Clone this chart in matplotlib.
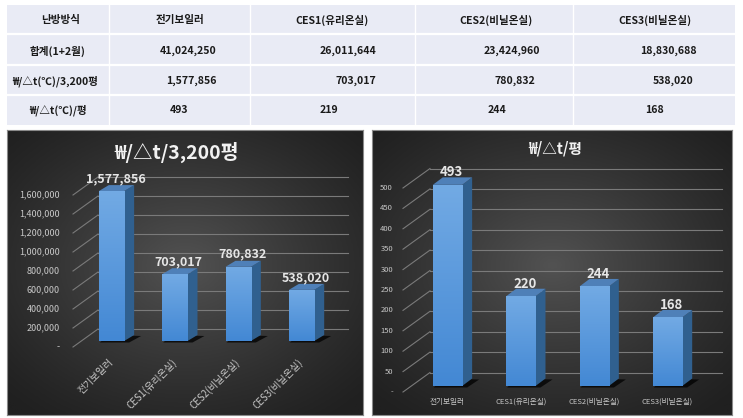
import numpy as np
import matplotlib
matplotlib.use('Agg')
import matplotlib.pyplot as plt
from matplotlib.patches import Rectangle, Polygon
from matplotlib.transforms import IdentityTransform
from matplotlib.colors import LinearSegmentedColormap

plt.rcParams['font.family'] = ['Noto Sans CJK KR', 'DejaVu Sans']

# ---------------- data ----------------
table_header = ['난방방식', '전기보일러', 'CES1(유리온실)', 'CES2(비닐온실)', 'CES3(비닐온실)']
row_labels = ['합계(1+2월)', '₩/△t(℃)/3,200평', '₩/△t(℃)/평']
total_cost = [41024250, 26011644, 23424960, 18830688]
cost_per_3200 = [1577856, 703017, 780832, 538020]
cost_per_pyeong_table = [493, 219, 244, 168]

categories = ['전기보일러', 'CES1(유리온실)', 'CES2(비닐온실)', 'CES3(비닐온실)']
left_title = '₩/△t/3,200평'
left_values = [1577856, 703017, 780832, 538020]
left_ticks = [0, 200000, 400000, 600000, 800000, 1000000, 1200000, 1400000, 1600000]
right_title = '₩/△t/평'
right_values = [493, 220, 244, 168]
right_ticks = [0, 50, 100, 150, 200, 250, 300, 350, 400, 450, 500]

# ---------------- figure ----------------
W, H = 743, 418
fig = plt.figure(figsize=(W / 100, H / 100), dpi=100)
fig.patch.set_facecolor('white')
ID = IdentityTransform()


def box(x0, y0, x1, y1):
    """top-origin pixel box -> figure fraction rect"""
    return [x0 / W, (H - y1) / H, (x1 - x0) / W, (y1 - y0) / H]


# ---------------- table ----------------
tab = fig.add_axes([0, 0, 1, 1], zorder=0)
tab.set_xlim(0, W)
tab.set_ylim(H, 0)
tab.axis('off')
row_edges = [5, 34, 65, 95, 125]
col_edges = [7, 109, 250, 415, 573, 735]
tab.add_patch(Rectangle((col_edges[0], row_edges[0]), col_edges[-1] - col_edges[0],
                        row_edges[-1] - row_edges[0], facecolor='#e9ebf5', edgecolor='none'))
for y in row_edges[1:-1]:
    tab.plot([col_edges[0], col_edges[-1]], [y, y], color='white', lw=1.6)
for x in col_edges[1:-1]:
    tab.plot([x, x], [row_edges[0], row_edges[-1]], color='white', lw=1.0)

row_y = [20, 51, 81, 110]
tfs = 7.6
tcol = '#1a1a1a'
tw = 'bold'
header_x = [61, 180, 332, 496, 655]
for x, t in zip(header_x, table_header):
    tab.text(x, row_y[0], t, ha='center', va='center', fontsize=tfs, color=tcol, fontweight=tw)
label_x = [58, 55, 58]
for i, t in enumerate(row_labels):
    tab.text(label_x[i], row_y[i + 1], t, ha='center', va='center', fontsize=tfs, color=tcol,
             fontweight=tw)
r2_x = [217, 376, 540, 697]
r3_x = [217, 376, 535, 693]
r4_x = [170, 320, 488, 645]
for x, v in zip(r2_x, total_cost):
    tab.text(x, row_y[1], f'{v:,}', ha='right', va='center', fontsize=tfs, color=tcol, fontweight=tw)
for x, v in zip(r3_x, cost_per_3200):
    tab.text(x, row_y[2], f'{v:,}', ha='right', va='center', fontsize=tfs, color=tcol, fontweight=tw)
for x, v in zip(r4_x, cost_per_pyeong_table):
    tab.text(x, row_y[3], f'{v:,}', ha='left', va='center', fontsize=tfs, color=tcol, fontweight=tw)

# ---------------- chart helpers ----------------
bg_cmap = LinearSegmentedColormap.from_list('bg', ['#202020', '#525252'])
front_cmap = LinearSegmentedColormap.from_list('front', ['#4388d4', '#72aae4'])


def panel(pbox):
    ax = fig.add_axes(box(*pbox), zorder=1)
    n = 300
    u, v = np.meshgrid(np.linspace(-1, 1, n), np.linspace(-1, 1, n))
    r = np.sqrt((u / 1.05) ** 2 + ((v + 0.05) / 1.0) ** 2)
    g = np.clip(1 - r / 1.35, 0, 1) ** 1.2
    ax.imshow(g, cmap=bg_cmap, vmin=0, vmax=1, extent=(0, 1, 0, 1), aspect='auto',
              interpolation='bilinear')
    ax.set_xlim(0, 1)
    ax.set_ylim(0, 1)
    ax.set_xticks([])
    ax.set_yticks([])
    for s in ax.spines.values():
        s.set_color('#8a8a8a')
        s.set_linewidth(0.8)
    return ax


def chart(pbox, plot_box, ymax, values, ticks, title, title_xy, title_fs,
          wall_x, diag_x0, wall_dy, label_x, tick_fs, bar_dx, bar_dy,
          val_fs, cat_style, cat_fs):
    panel(pbox)
    ax = fig.add_axes(box(*plot_box), zorder=2)
    ax.patch.set_alpha(0)
    ax.axis('off')
    x = np.arange(len(values))
    bars = ax.bar(x, values, width=0.4, color='#5b9bd5', zorder=4)
    ax.set_xlim(-0.5, len(values) - 0.5)
    ax.set_ylim(0, ymax)
    tx = ax.transData

    # grid on back wall + diagonals + tick labels
    for t in ticks:
        yf = tx.transform((0, t))[1]
        yb = yf + wall_dy
        ax.plot([wall_x[0], wall_x[1]], [yb, yb], transform=ID, color='#7a7a7a',
                lw=0.8, clip_on=False, zorder=1)
        ax.plot([diag_x0, wall_x[0]], [yf - 6, yb], transform=ID, color='#7a7a7a',
                lw=0.8, clip_on=False, zorder=1)
        lab = '-' if t == 0 else f'{t:,}'
        ax.text(label_x, yf - 6, lab, transform=ID, ha='right', va='center',
                fontsize=tick_fs, color='#c8c8c8')

    for i, rect in enumerate(bars):
        x0 = rect.get_x()
        x1 = x0 + rect.get_width()
        h = rect.get_height()
        X0, Yb = tx.transform((x0, 0))
        X1, Yt = tx.transform((x1, h))
        # floor shadow
        ax.add_patch(Polygon([(X0 + 1, Yb - 1.5), (X1 + 5, Yb - 1.5),
                              (X1 + bar_dx + 7, Yb + bar_dy - 1), (X0 + bar_dx, Yb + bar_dy)],
                             closed=True, transform=ID, facecolor='black', alpha=0.75,
                             edgecolor='none', clip_on=False, zorder=2))
        # side face
        ax.add_patch(Polygon([(X1, Yb), (X1, Yt), (X1 + bar_dx, Yt + bar_dy), (X1 + bar_dx, Yb + bar_dy)],
                             closed=True, transform=ID, facecolor='#30608f',
                             edgecolor='none', clip_on=False, zorder=3))
        # top face
        ax.add_patch(Polygon([(X0, Yt), (X1, Yt), (X1 + bar_dx, Yt + bar_dy), (X0 + bar_dx, Yt + bar_dy)],
                             closed=True, transform=ID, facecolor='#4f80b8',
                             edgecolor='none', clip_on=False, zorder=3))
        # front gradient
        grad = np.linspace(0, 1, 100).reshape(-1, 1)
        im = ax.imshow(grad, cmap=front_cmap, extent=(x0, x1, 0, h), origin='lower',
                       aspect='auto', zorder=5)
        im.set_clip_path(rect)
        # value label
        ax.text((X0 + X1) / 2 + bar_dx / 2 - 1, Yt + 12.5, f'{values[i]:,}', transform=ID,
                ha='center', va='center', fontsize=val_fs, fontweight='bold', color='#e6e6e6',
                zorder=6)
        # category label
        cx = (X0 + X1) / 2
        if cat_style == 'rot':
            ax.text(cx - 4, H - 357, categories[i], transform=ID, rotation=45,
                    rotation_mode='anchor', ha='right', va='top', fontsize=cat_fs,
                    color='#c8c8c8')
        else:
            ax.text(cx, H - 402, categories[i], transform=ID, ha='center', va='center',
                    fontsize=cat_fs, color='#c8c8c8')
    ax.set_xlim(-0.5, len(values) - 0.5)
    ax.set_ylim(0, ymax)
    ax.set_aspect('auto')

    fig.text(title_xy[0] / W, (H - title_xy[1]) / H, title, ha='center', va='center',
             fontsize=title_fs, fontweight='bold', color='#f2f2f2', zorder=10)


# left chart: bar centres 111.5 .. 301.5 px, zero at 341 px, 1.6M at 189 px
chart(pbox=(7, 130, 363, 415), plot_box=(79.8, 170, 333.2, 341), ymax=1800000,
      values=left_values, ticks=left_ticks, title=left_title, title_xy=(177, 152),
      title_fs=14, wall_x=(98, 348), diag_x0=73, wall_dy=12, label_x=60, tick_fs=6.5,
      bar_dx=10, bar_dy=6, val_fs=9, cat_style='rot', cat_fs=7)

# right chart: bar centres 447.5 .. 667.5 px, zero at 386 px, 500 at 182 px
chart(pbox=(372, 130, 732, 415), plot_box=(410.8, 161.6, 704.2, 386), ymax=550,
      values=right_values, ticks=right_ticks, title=right_title, title_xy=(555, 149),
      title_fs=10.5, wall_x=(430, 722), diag_x0=403, wall_dy=13.5, label_x=393, tick_fs=5.5,
      bar_dx=10, bar_dy=7.5, val_fs=9.5, cat_style='flat', cat_fs=5.5)

fig.savefig('out.png', dpi=100, facecolor='white')
